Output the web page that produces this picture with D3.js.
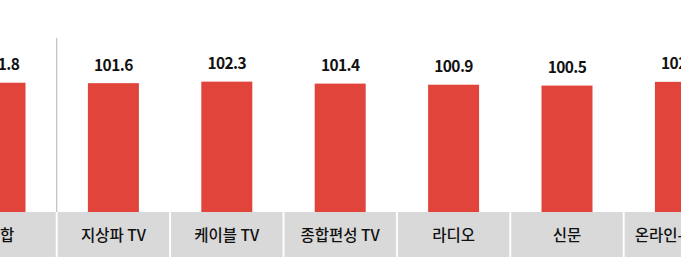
<!DOCTYPE html>
<html>
<head>
<meta charset="utf-8">
<script src="https://cdn.jsdelivr.net/npm/d3@7"></script>
<style>
  body { margin: 0; background: #fff; }
  svg { display: block; }
</style>
</head>
<body>
<svg id="chart" width="681" height="259"></svg>
<script>
  // media categories and index values
  const categories = ["종합", "지상파 TV", "케이블 TV", "종합편성 TV", "라디오", "신문", "온라인-모바일"];
  const values = [101.8, 101.6, 102.3, 101.4, 100.9, 100.5, 102.2];

  const svg = d3.select("#chart");
  const step = 113.4;
  const barW = 51;
  const boxW = 111.5;
  const baseY = 211;

  const x = d3.scaleBand()
    .domain(categories)
    .range([-step / 2, -step / 2 + step * categories.length])
    .padding(0);

  // axis is hidden in the original, it does not start at zero
  const y = d3.scaleLinear()
    .domain([43.5, 139.4])
    .range([baseY, 0]);

  const cx = d => x(d) + x.bandwidth() / 2;

  // bars
  svg.append("g")
    .selectAll("rect")
    .data(values)
    .join("rect")
    .attr("x", (d, i) => cx(categories[i]) - barW / 2)
    .attr("y", d => y(d))
    .attr("width", barW)
    .attr("height", d => baseY + 1 - y(d))
    .attr("fill", "#e1443b");

  // value labels
  svg.append("g")
    .selectAll("text")
    .data(values)
    .join("text")
    .attr("x", (d, i) => cx(categories[i]))
    .attr("y", d => y(d) - 12.5)
    .attr("text-anchor", "middle")
    .attr("font-family", "'Noto Sans CJK KR', 'Noto Sans', sans-serif")
    .attr("font-size", 15.5)
    .attr("font-weight", 700)
    .attr("letter-spacing", -0.6)
    .attr("fill", "#111")
    .text(d => d.toFixed(1));

  // category boxes under the bars
  const boxes = svg.append("g");
  boxes.selectAll("rect")
    .data(categories)
    .join("rect")
    .attr("x", d => cx(d) - boxW / 2)
    .attr("y", 212)
    .attr("width", boxW)
    .attr("height", 45)
    .attr("fill", "#d9d9d9");

  boxes.selectAll("text")
    .data(categories)
    .join("text")
    .attr("x", d => cx(d))
    .attr("y", 240.5)
    .attr("text-anchor", "middle")
    .attr("font-family", "'Noto Sans CJK KR', 'Noto Sans', sans-serif")
    .attr("font-size", 15.5)
    .attr("font-weight", 500)
    .attr("fill", "#111")
    .text(d => d);

  // separator between total and the media types
  const sepX = (cx(categories[0]) + cx(categories[1])) / 2;
  svg.append("line")
    .attr("x1", sepX).attr("x2", sepX)
    .attr("y1", 38).attr("y2", 212)
    .attr("stroke", "#bfbfbf")
    .attr("stroke-width", 1.2);
</script>
</body>
</html>
